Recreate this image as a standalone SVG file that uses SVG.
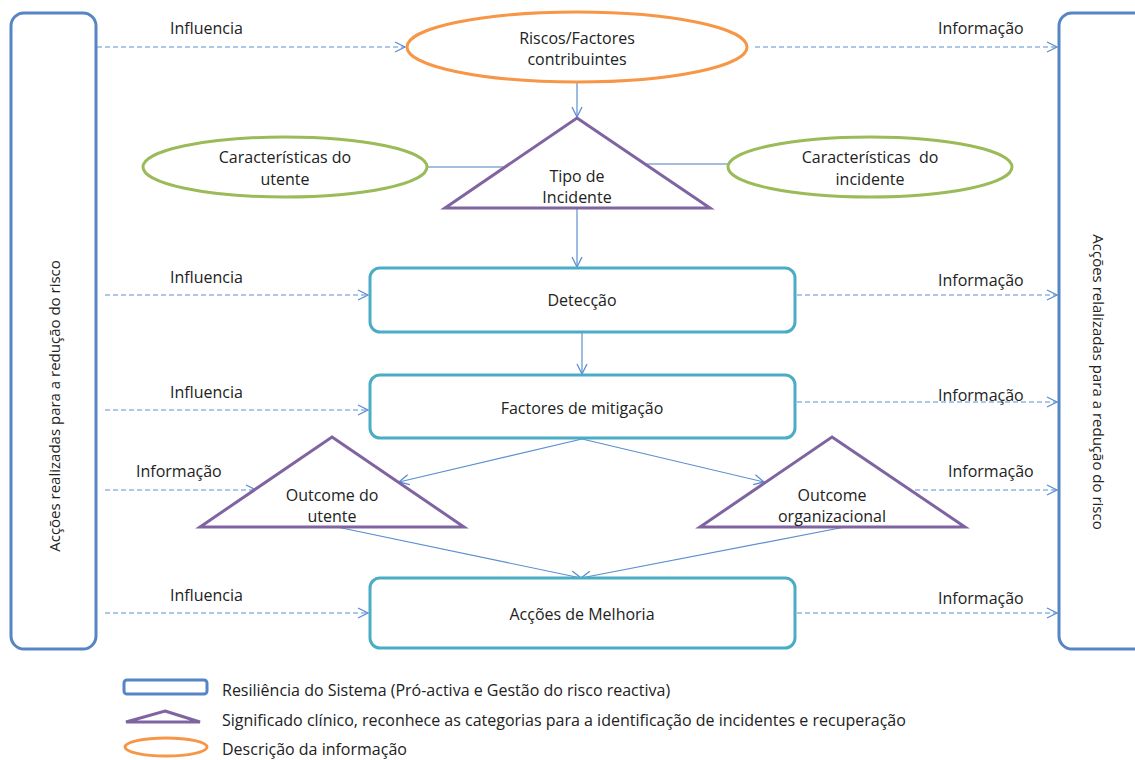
<svg xmlns="http://www.w3.org/2000/svg" width="1135" height="760" viewBox="0 0 1135 760">
  <defs>
    <marker id="open" viewBox="0 0 12 12" refX="11" refY="6" markerWidth="12" markerHeight="12" markerUnits="userSpaceOnUse" orient="auto">
      <path d="M1,1 L11,6 L1,11" fill="none" stroke="#5b8fd0" stroke-width="1.3"/>
    </marker>
    <style>
      text { font-family: "Open Sans", "Liberation Sans", sans-serif; font-size: 16px; fill: #222; }
      .c { text-anchor: middle; }
      .v { font-size: 15px; }
      .side { fill: #fff; stroke: #5585c5; stroke-width: 3; }
      .box { fill: #fff; stroke: #4bacc6; stroke-width: 3; }
      .tri { fill: #fff; stroke: #8064a2; stroke-width: 3; stroke-linejoin: miter; }
      .info { fill: #fff; stroke: #f79646; stroke-width: 3; }
      .char { fill: #fff; stroke: #9bbb59; stroke-width: 3; }
      .dash { fill: none; stroke: #5b8fd0; stroke-width: 1.2; stroke-dasharray: 5 3; marker-end: url(#open); }
      .flow { fill: none; stroke: #5b8fd0; stroke-width: 1.2; marker-end: url(#open); }
      .link { fill: none; stroke: #4a7ebb; stroke-width: 1.2; }
    </style>
  </defs>

  <!-- connectors -->
  <g id="connectors">
    <path class="dash" d="M97,47 H405"/>
    <path class="dash" d="M755,47 H1057"/>
    <path class="dash" d="M105,295 H368"/>
    <path class="dash" d="M797,295 H1057"/>
    <path class="dash" d="M105,410 H368"/>
    <path class="dash" d="M797,402 H1057"/>
    <path class="dash" d="M105,490 H256"/>
    <path class="dash" d="M915,490 H1057"/>
    <path class="dash" d="M105,613 H368"/>
    <path class="dash" d="M797,613 H1057"/>
    <path class="flow" d="M577,82 V117"/>
    <path class="flow" d="M577,209 V267"/>
    <path class="flow" d="M582,333 V374"/>
    <path class="flow" d="M582,439 L399,482"/>
    <path class="flow" d="M582,439 L764,482"/>
    <path class="flow" d="M337,527 L581,578"/>
    <path class="flow" d="M845,527 L581,578"/>
    <path class="link" d="M427,167 H511"/>
    <path class="link" d="M645,164 H728"/>
  </g>

  <g id="connector-labels">
    <text x="170" y="34">Influencia</text>
    <text x="938" y="34">Informação</text>
    <text x="170" y="283">Influencia</text>
    <text x="938" y="286">Informação</text>
    <text x="170" y="398">Influencia</text>
    <text x="938" y="401">Informação</text>
    <text x="136" y="477">Informação</text>
    <text x="948" y="477">Informação</text>
    <text x="170" y="601">Influencia</text>
    <text x="938" y="604">Informação</text>
  </g>

  <g id="left-actions">
    <rect class="side" x="11" y="13" width="85" height="636" rx="13"/>
    <text class="c v" transform="translate(60,406) rotate(-90)">Acções realizadas para a redução do risco</text>
  </g>

  <g id="right-actions">
    <rect class="side" x="1059" y="13" width="90" height="636" rx="13"/>
    <text class="c v" transform="translate(1093,382) rotate(90)">Acções relalizadas para a redução do risco</text>
  </g>

  <g id="riscos">
    <ellipse class="info" cx="577" cy="47" rx="170" ry="35"/>
    <text class="c" x="577" y="44">Riscos/Factores</text>
    <text class="c" x="577" y="65">contribuintes</text>
  </g>

  <g id="caracteristicas-utente">
    <ellipse class="char" cx="285" cy="167" rx="142" ry="30"/>
    <text class="c" x="285" y="163">Características do</text>
    <text class="c" x="285" y="185">utente</text>
  </g>

  <g id="caracteristicas-incidente">
    <ellipse class="char" cx="870" cy="167" rx="142" ry="30"/>
    <text class="c" x="870" y="163" xml:space="preserve">Características  do</text>
    <text class="c" x="870" y="185">incidente</text>
  </g>

  <g id="tipo-incidente">
    <polygon class="tri" points="577,118 710,208 445,208"/>
    <text class="c" x="577" y="182">Tipo de</text>
    <text class="c" x="577" y="203">Incidente</text>
  </g>

  <g id="deteccao">
    <rect class="box" x="370" y="268" width="425" height="64" rx="10"/>
    <text class="c" x="582" y="306">Detecção</text>
  </g>

  <g id="factores-mitigacao">
    <rect class="box" x="370" y="375" width="425" height="63" rx="10"/>
    <text class="c" x="582" y="414">Factores de mitigação</text>
  </g>

  <g id="outcome-utente">
    <polygon class="tri" points="332,437 464,527 200,527"/>
    <text class="c" x="332" y="501">Outcome do</text>
    <text class="c" x="332" y="522">utente</text>
  </g>

  <g id="outcome-organizacional">
    <polygon class="tri" points="832,437 965,527 700,527"/>
    <text class="c" x="832" y="501">Outcome</text>
    <text class="c" x="832" y="522">organizacional</text>
  </g>

  <g id="accoes-melhoria">
    <rect class="box" x="370" y="578" width="425" height="70" rx="10"/>
    <text class="c" x="582" y="620">Acções de Melhoria</text>
  </g>

  <g id="legend">
    <rect x="124" y="680" width="83" height="14" rx="3" fill="#fff" stroke="#5585c5" stroke-width="3"/>
    <text x="222" y="696">Resiliência do Sistema (Pró-activa e Gestão do risco reactiva)</text>
    <polygon points="165,711 200,722 126,722" fill="#fff" stroke="#8064a2" stroke-width="3"/>
    <text x="222" y="726">Significado clínico, reconhece as categorias para a identificação de incidentes e recuperação</text>
    <ellipse cx="166" cy="747" rx="41" ry="9" fill="#fff" stroke="#f79646" stroke-width="3"/>
    <text x="222" y="755">Descrição da informação</text>
  </g>
</svg>
